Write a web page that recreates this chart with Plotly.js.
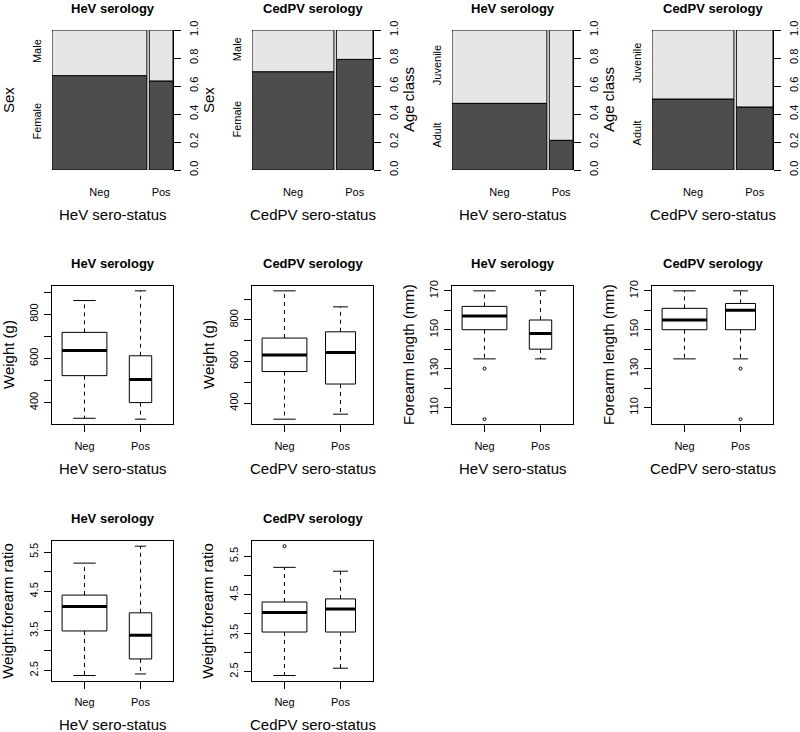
<!DOCTYPE html>
<html><head><meta charset="utf-8">
<script src="https://cdn.plot.ly/plotly-3.0.1.min.js"></script>
<style>html,body{margin:0;padding:0;background:#fff}#chart{width:800px;height:732px}</style>
</head><body><div id="chart"></div>
<script>
// ---------- DATA ----------
const groups = ['Neg', 'Pos'];
const serologies = ['HeV serology', 'CedPV serology'];
const statusTitles = ['HeV sero-status', 'CedPV sero-status'];
// group sizes (drive spine widths and box widths)
const hevN = [44, 11];
const cedN = [38, 17];
// spineplots: proportion in the lower (dark) level
const hevFemale = [0.674, 0.636];
const cedFemale = [0.702, 0.790];
const hevAdult = [0.476, 0.212];
const cedAdult = [0.507, 0.450];
const sexLevels = ['Female', 'Male'];
const ageLevels = ['Adult', 'Juvenile'];
const propTicks = [0, 0.2, 0.4, 0.6, 0.8, 1.0];
const propTickText = ['0.0', '0.2', '0.4', '0.6', '0.8', '1.0'];

// boxplot stats [Neg, Pos]
const hevWeightLow = [329, 325], hevWeightQ1 = [522, 400], hevWeightMed = [636, 505], hevWeightQ3 = [718, 612], hevWeightHigh = [862, 906];
const cedWeightLow = [323, 347], cedWeightQ1 = [552, 492], cedWeightMed = [631, 644], cedWeightQ3 = [713, 743], cedWeightHigh = [940, 863];
const hevForeLow = [135, 135], hevForeQ1 = [150, 140], hevForeMed = [157, 148], hevForeQ3 = [162, 155], hevForeHigh = [170, 170];
const cedForeLow = [135, 135], cedForeQ1 = [150, 150], cedForeMed = [155, 160], cedForeQ3 = [161, 163.5], cedForeHigh = [170, 170];
const hevRatioLow = [2.37, 2.41], hevRatioQ1 = [3.50, 2.79], hevRatioMed = [4.12, 3.39], hevRatioQ3 = [4.41, 3.96], hevRatioHigh = [5.22, 5.65];
const cedRatioLow = [2.40, 2.59], cedRatioQ1 = [3.53, 3.53], cedRatioMed = [4.04, 4.13], cedRatioQ3 = [4.31, 4.39], cedRatioHigh = [5.21, 5.11];
// outliers [Neg, Pos]
const hevWeightOut = [[], []];
const cedWeightOut = [[], []];
const hevForeOut = [[130, 104], []];
const cedForeOut = [[], [130, 104]];
const hevRatioOut = [[], []];
const cedRatioOut = [[5.76], []];
// tick values / labels
const weightTicks = [400, 500, 600, 700, 800, 900];
const weightTickText = ['400', '', '600', '', '800', ''];
const foreTicks = [110, 120, 130, 140, 150, 160, 170];
const foreTickText = ['110', '', '130', '', '150', '', '170'];
const ratioTicks = [2.5, 3, 3.5, 4, 4.5, 5, 5.5];
const ratioTickText = ['2.5', '', '3.5', '', '4.5', '', '5.5'];

// ---------- LAYOUT GEOMETRY ----------
const W = 800, H = 732;
const FONT = 'Liberation Sans, Arial, Helvetica, sans-serif';
const colsPx = [[52, 173], [252, 373], [452, 573], [652, 773]];
const rowsPx = [[30, 170], [285.7, 424.3], [541, 680.7]];
const titleY = [9, 263, 518];
const xTitleY = [214, 468, 724];
const dark = '#4D4D4D', light = '#E6E6E6';

const data = [];
const layout = {
  width: W, height: H, margin: {l: 0, r: 0, t: 0, b: 0},
  paper_bgcolor: '#fff', plot_bgcolor: '#fff',
  showlegend: false, barmode: 'overlay', boxmode: 'overlay',
  font: {family: FONT, color: '#000'},
  annotations: []
};
const xd = c => [colsPx[c][0] / W, colsPx[c][1] / W];
const yd = r => [1 - rowsPx[r][1] / H, 1 - rowsPx[r][0] / H];

function ann(text, xpx, ypx, size, opts) {
  layout.annotations.push(Object.assign({
    text: text, xref: 'paper', yref: 'paper', x: xpx / W, y: 1 - ypx / H,
    xanchor: 'center', yanchor: 'middle', showarrow: false,
    font: {family: FONT, size: size, color: '#000'}
  }, opts || {}));
}

function frameText(i, c, r, serIdx, yTitle) {
  const cx = (colsPx[c][0] + colsPx[c][1]) / 2;
  ann('<b>' + serologies[serIdx] + '</b>', cx, titleY[r], 13);
  ann(statusTitles[serIdx], cx, xTitleY[r], 15);
  ann(yTitle, colsPx[c][0] - 44, (rowsPx[r][0] + rowsPx[r][1]) / 2, 15, {textangle: -90});
}

let extraY = 11;
function spine(i, c, r, serIdx, N, prop, levels, yTitle) {
  const total = N[0] + N[1];
  const gap = 0.02;
  const w = N.map(n => n / total);
  const left = [0, w[0] + gap];
  const centers = left.map((l, k) => l + w[k] / 2);
  const xa = 'x' + i, ya = 'y' + i;
  data.push({type: 'bar', x: centers, y: prop, base: [0, 0], width: w, xaxis: xa, yaxis: ya,
    marker: {color: dark, line: {color: '#000', width: 1}}, hoverinfo: 'skip'});
  data.push({type: 'bar', x: centers, y: prop.map(p => 1 - p), base: prop, width: w, xaxis: xa, yaxis: ya,
    marker: {color: light, line: {color: '#000', width: 1}}, hoverinfo: 'skip'});
  layout['xaxis' + i] = {domain: xd(c), anchor: ya, range: [0, 1 + gap], tickvals: centers, ticktext: groups,
    ticks: '', showline: false, showgrid: false, zeroline: false, ticklabelstandoff: 14,
    tickfont: {size: 11, family: FONT}, fixedrange: true};
  layout['yaxis' + i] = {domain: yd(r), anchor: xa, side: 'right', range: [0, 1], tickvals: propTicks, ticktext: propTickText,
    ticks: 'outside', ticklen: 7, tickcolor: '#000', tickangle: -90, showline: true, linecolor: '#000', linewidth: 1,
    showgrid: false, zeroline: false, tickfont: {size: 11, family: FONT}, ticklabelstandoff: 4, fixedrange: true};
  const yl = 'yaxis' + extraY;
  layout[yl] = {domain: yd(r), anchor: xa, overlaying: ya, side: 'left', range: [0, 1],
    tickvals: [prop[0] / 2, (1 + prop[0]) / 2], ticktext: levels, ticks: '', tickangle: -90,
    showline: false, showgrid: false, zeroline: false, tickfont: {size: 11, family: FONT},
    ticklabelstandoff: 8, fixedrange: true};
  data.push({type: 'scatter', x: [0], y: [0], xaxis: xa, yaxis: 'y' + extraY, mode: 'markers',
    marker: {opacity: 0}, hoverinfo: 'skip'});
  extraY++;
  frameText(i, c, r, serIdx, yTitle);
}

function boxPanel(i, c, r, serIdx, N, low, q1, med, q3, high, outs, ticks, tickText, yTitle) {
  const xa = 'x' + i, ya = 'y' + i;
  const nmax = Math.max(N[0], N[1]);
  let vmin = Infinity, vmax = -Infinity;
  for (let k = 0; k < 2; k++) {
    const pos = k + 1;
    const w = 0.8 * Math.sqrt(N[k] / nmax);
    vmin = Math.min(vmin, low[k], ...outs[k]);
    vmax = Math.max(vmax, high[k], ...outs[k]);
    data.push({type: 'box', x: [pos], q1: [q1[k]], median: [med[k]], q3: [q3[k]],
      lowerfence: [q1[k]], upperfence: [q3[k]], width: w, xaxis: xa, yaxis: ya,
      fillcolor: '#fff', line: {color: '#000', width: 1}, whiskerwidth: 0, boxpoints: false, hoverinfo: 'skip'});
    // dashed whiskers
    data.push({type: 'scatter', mode: 'lines', xaxis: xa, yaxis: ya, hoverinfo: 'skip',
      x: [pos, pos, null, pos, pos], y: [q3[k], high[k], null, q1[k], low[k]],
      line: {color: '#000', width: 1, dash: '4px,4px'}});
    // staples
    data.push({type: 'scatter', mode: 'lines', xaxis: xa, yaxis: ya, hoverinfo: 'skip',
      x: [pos - w / 4, pos + w / 4, null, pos - w / 4, pos + w / 4], y: [high[k], high[k], null, low[k], low[k]],
      line: {color: '#000', width: 1}});
    // thick median
    data.push({type: 'scatter', mode: 'lines', xaxis: xa, yaxis: ya, hoverinfo: 'skip',
      x: [pos - w / 2, pos + w / 2], y: [med[k], med[k]], line: {color: '#000', width: 3}});
    if (outs[k].length) {
      data.push({type: 'scatter', mode: 'markers', xaxis: xa, yaxis: ya, hoverinfo: 'skip',
        x: outs[k].map(() => pos), y: outs[k],
        marker: {symbol: 'circle-open', size: 3, color: '#000', line: {width: 1, color: '#000'}}});
    }
  }
  const pad = 0.04 * (vmax - vmin);
  layout['xaxis' + i] = {domain: xd(c), anchor: ya, range: [0.42, 2.58], tickvals: [1, 2], ticktext: groups,
    ticks: 'outside', ticklen: 7, tickcolor: '#000', showline: true, mirror: true, linecolor: '#000', linewidth: 1,
    showgrid: false, zeroline: false, tickfont: {size: 11, family: FONT}, ticklabelstandoff: 4, fixedrange: true};
  layout['yaxis' + i] = {domain: yd(r), anchor: xa, range: [vmin - pad, vmax + pad], tickvals: ticks, ticktext: tickText,
    ticks: 'outside', ticklen: 7, tickcolor: '#000', tickangle: -90, showline: true, mirror: true, linecolor: '#000', linewidth: 1,
    showgrid: false, zeroline: false, tickfont: {size: 11, family: FONT}, ticklabelstandoff: 2, fixedrange: true};
  frameText(i, c, r, serIdx, yTitle);
}

spine(1, 0, 0, 0, hevN, hevFemale, sexLevels, 'Sex');
spine(2, 1, 0, 1, cedN, cedFemale, sexLevels, 'Sex');
spine(3, 2, 0, 0, hevN, hevAdult, ageLevels, 'Age class');
spine(4, 3, 0, 1, cedN, cedAdult, ageLevels, 'Age class');
boxPanel(5, 0, 1, 0, hevN, hevWeightLow, hevWeightQ1, hevWeightMed, hevWeightQ3, hevWeightHigh, hevWeightOut, weightTicks, weightTickText, 'Weight (g)');
boxPanel(6, 1, 1, 1, cedN, cedWeightLow, cedWeightQ1, cedWeightMed, cedWeightQ3, cedWeightHigh, cedWeightOut, weightTicks, weightTickText, 'Weight (g)');
boxPanel(7, 2, 1, 0, hevN, hevForeLow, hevForeQ1, hevForeMed, hevForeQ3, hevForeHigh, hevForeOut, foreTicks, foreTickText, 'Forearm length (mm)');
boxPanel(8, 3, 1, 1, cedN, cedForeLow, cedForeQ1, cedForeMed, cedForeQ3, cedForeHigh, cedForeOut, foreTicks, foreTickText, 'Forearm length (mm)');
boxPanel(9, 0, 2, 0, hevN, hevRatioLow, hevRatioQ1, hevRatioMed, hevRatioQ3, hevRatioHigh, hevRatioOut, ratioTicks, ratioTickText, 'Weight:forearm ratio');
boxPanel(10, 1, 2, 1, cedN, cedRatioLow, cedRatioQ1, cedRatioMed, cedRatioQ3, cedRatioHigh, cedRatioOut, ratioTicks, ratioTickText, 'Weight:forearm ratio');

Plotly.newPlot('chart', data, layout, {displayModeBar: false, staticPlot: true});
</script></body></html>
